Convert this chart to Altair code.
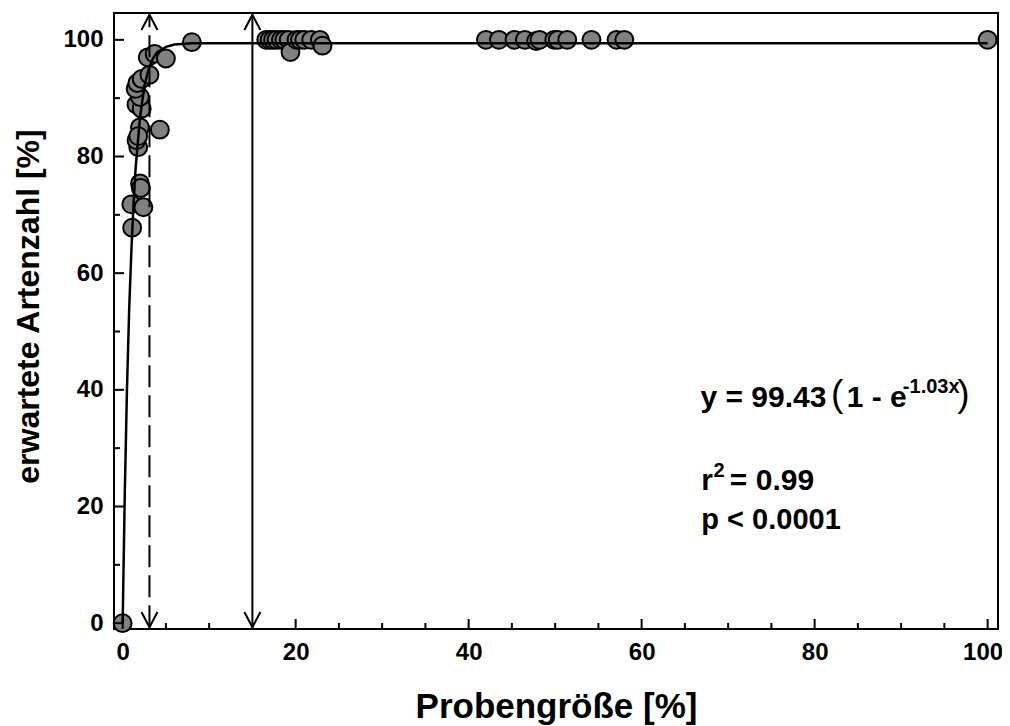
import altair as alt
import pandas as pd

FONT = "Liberation Sans"

# ---- observed points (Probengröße %, erwartete Artenzahl %) ----
pt_x = [0, 1.1, 1.0, 2.4, 2.0, 2.1, 1.8, 1.6, 2.0, 4.3, 1.8, 1.6, 2.2, 2.0, 1.5, 1.7,
        2.2, 3.1, 2.9, 3.7, 5.0, 8.0,
        16.6, 17.0, 17.4, 17.8, 18.3, 18.7, 19.2, 19.4, 20.1, 20.5, 21.0, 21.8, 22.8, 23.1,
        42.0, 43.5, 45.3, 46.5, 47.8, 48.2, 49.9, 50.3, 51.4, 54.2, 57.1, 58.0, 100.0]
pt_y = [0, 67.8, 71.8, 71.3, 75.4, 74.6, 81.6, 82.8, 85.0, 84.6, 83.5, 88.9, 88.2, 90.2, 91.6, 92.6,
        93.3, 94.0, 97.0, 97.6, 96.8, 99.6,
        100, 100, 100, 100, 100, 100, 100, 97.9, 100, 100, 100, 100, 100, 99.0,
        100, 100, 100, 100, 99.8, 100, 100, 100, 100, 100, 100, 100, 100]

# ---- fitted curve ----
curve_x = [0, 0.25, 0.5, 0.75, 1.0, 1.25, 1.5, 2.0, 2.5, 3.0, 3.5, 4.0, 5.0, 6.0, 8.0, 10, 20, 50, 100]
curve_y = [0, 22.5, 40.2, 53.6, 63.5, 71.7, 78.0, 86.6, 92.0, 95.0, 96.8, 97.9, 98.8, 99.2, 99.4,
           99.43, 99.43, 99.43, 99.43]

# ---- double-headed marker lines ----
ref_x = [3.1, 15.0]
ref_kind = ["dashed", "solid"]
ref_bottom = [-0.7, -0.7]
ref_top = [104.3, 104.3]

# ---- axis ticks ----
x_major = [0, 20, 40, 60, 80, 100]
x_minor = [5, 10, 15, 25, 30, 35, 45, 50, 55, 65, 70, 75, 85, 90, 95]
y_major = [0, 20, 40, 60, 80, 100]
y_minor = [10, 30, 50, 70, 90]

X_DOM = [-1.0, 101.2]
Y_DOM = [-1.0, 104.6]

xs = alt.Scale(domain=X_DOM, nice=False, zero=False)
ys = alt.Scale(domain=Y_DOM, nice=False, zero=False)

pts = pd.DataFrame({"x": pt_x, "y": pt_y})
curve = pd.DataFrame({"x": curve_x, "y": curve_y, "o": list(range(len(curve_x)))})
refs = pd.DataFrame({"x": ref_x, "kind": ref_kind, "y0": ref_bottom, "y1": ref_top})

x_axis = alt.Axis(values=x_major, format="d", title="Probengröße [%]", grid=False, domain=False,
                  ticks=False, tickSize=0, labelFont=FONT, labelFontSize=24, labelFontWeight="bold",
                  labelColor="black", labelPadding=11, labelFlush=False, labelOverlap=False,
                  labelOffset={"condition": {"test": "datum.value == 100", "value": -5}, "value": 0},
                  titleFont=FONT, titleFontSize=35, titleFontWeight="bold", titleColor="black",
                  titleY=77, titleBaseline="middle")
y_axis = alt.Axis(values=y_major, format="d", title="erwartete Artenzahl [%]", grid=False, domain=False,
                  ticks=False, tickSize=0, labelFont=FONT, labelFontSize=24, labelFontWeight="bold",
                  labelColor="black", labelPadding=11, labelFlush=False, labelOverlap=False,
                  titleFont=FONT, titleFontSize=32, titleFontWeight="bold", titleColor="black",
                  titleX=-86, titleY=293, titleBaseline="middle")


def X(field):
    return alt.X(field, scale=xs, axis=x_axis)


def Y(field):
    return alt.Y(field, scale=ys, axis=y_axis)


points = alt.Chart(pts).mark_circle(size=320, color="#808080", stroke="black", strokeWidth=2,
                                    opacity=1).encode(x=X("x:Q"), y=Y("y:Q"))

line = alt.Chart(curve).mark_line(color="black", strokeWidth=2.5).encode(
    x=X("x:Q"), y=Y("y:Q"), order="o:Q")

dashed_rule = alt.Chart(refs).transform_filter(alt.datum.kind == "dashed").mark_rule(
    color="black", strokeWidth=2, strokeDash=[22, 8]).encode(x=X("x:Q"), y=Y("y0:Q"), y2="y1:Q")
solid_rule = alt.Chart(refs).transform_filter(alt.datum.kind == "solid").mark_rule(
    color="black", strokeWidth=2).encode(x=X("x:Q"), y=Y("y0:Q"), y2="y1:Q")

head_top = alt.Chart(refs).mark_point(shape="M-1,1.9L0,0L1,1.9", size=256, filled=False,
                                      stroke="black", strokeWidth=2, opacity=1).encode(
    x=X("x:Q"), y=Y("y1:Q"))
head_bot = alt.Chart(refs).mark_point(shape="M-1,-1.9L0,0L1,-1.9", size=256, filled=False,
                                      stroke="black", strokeWidth=2, opacity=1).encode(
    x=X("x:Q"), y=Y("y0:Q"))


def xticks(vals, length):
    df = pd.DataFrame({"x": vals, "y": [Y_DOM[0]] * len(vals)})
    return alt.Chart(df).mark_tick(orient="vertical", size=length, thickness=2, color="black",
                                   yOffset=-length / 2, opacity=1).encode(x=X("x:Q"), y=Y("y:Q"))


def yticks(vals, length):
    df = pd.DataFrame({"y": vals, "x": [X_DOM[0]] * len(vals)})
    return alt.Chart(df).mark_tick(orient="horizontal", size=length, thickness=2, color="black",
                                   xOffset=length / 2, opacity=1).encode(x=X("x:Q"), y=Y("y:Q"))


# ---- annotation text ----
ann_text = ["y = 99.43", "(", "1 - e", "-1.03x", ")", "r", "2", "= 0.99", "p < 0.0001"]
ann_x = [66.8, 81.9, 83.7, 90.2, 96.5, 66.9, 68.3, 70.2, 66.9]
ann_y = [37.05, 37.3, 37.05, 39.45, 37.3, 22.8, 25.1, 22.8, 16.2]
ann_size = [30, 37, 30, 20, 37, 30, 20, 30, 29]
ann_weight = ["bold", "normal", "bold", "bold", "normal", "bold", "bold", "bold", "bold"]

texts = []
for t, x, y, s, w in zip(ann_text, ann_x, ann_y, ann_size, ann_weight):
    df = pd.DataFrame({"x": [x], "y": [y], "t": [t]})
    texts.append(alt.Chart(df).mark_text(align="left", baseline="alphabetic", font=FONT,
                                         fontSize=s, fontWeight=w, color="black").encode(
        x=X("x:Q"), y=Y("y:Q"), text="t:N"))

chart = alt.layer(
    points, line, dashed_rule, solid_rule, head_top, head_bot,
    xticks(x_major, 10), xticks(x_minor, 6), yticks(y_major, 10), yticks(y_minor, 6),
    *texts
).properties(
    width=884, height=616,
    autosize=alt.AutoSizeParams(type="none"),
    padding={"left": 106, "top": 5, "right": 4, "bottom": 96},
    background="white",
).configure_view(stroke="black", strokeWidth=2)

chart.save("out.html", embed_options={"renderer": "svg", "actions": False})
